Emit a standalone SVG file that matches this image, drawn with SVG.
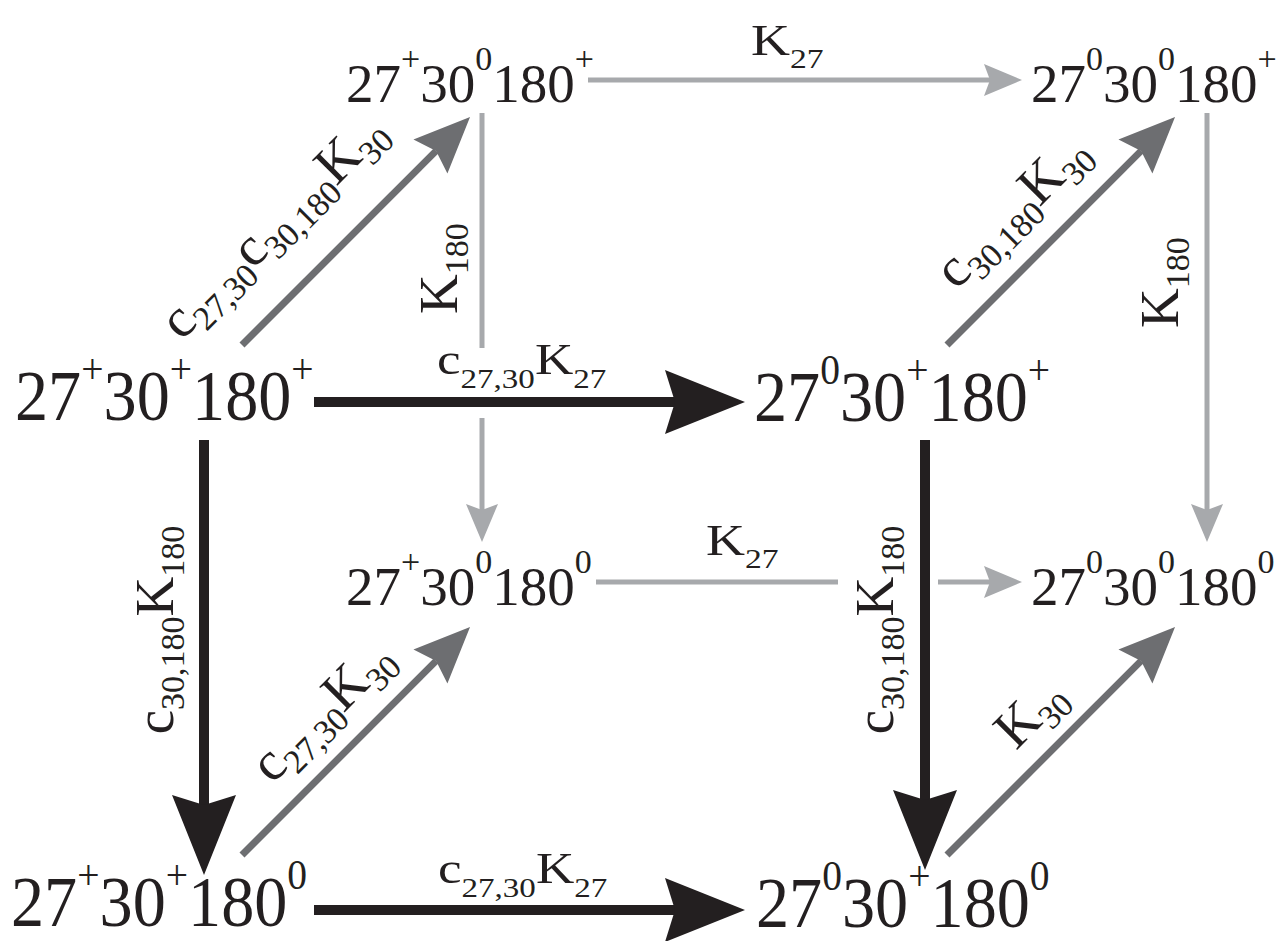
<svg xmlns="http://www.w3.org/2000/svg" width="1278" height="941" viewBox="0 0 1278 941">
<style>
text{font-family:"Liberation Serif","Times New Roman",serif;fill:#231f20}
.nb{font-size:72px}.sb{font-size:43px}
.ns{font-size:55px}.ss{font-size:34px}
.lb{font-size:55px}.sub{font-size:34px}
.lh{font-size:45px}.subh{font-size:28px}
.blk{stroke:#231f20;stroke-width:10;fill:none}
.lg{stroke:#a7a9ac;stroke-width:5;fill:none}
.dg{stroke:#6d6e71;stroke-width:7;fill:none}
</style>
<defs>
<marker id="hb" markerUnits="userSpaceOnUse" viewBox="-20 -40 100 80" refX="0" refY="0" markerWidth="100" markerHeight="80" orient="auto" overflow="visible"><path d="M70,0 L-10,-32 L0,0 L-10,32 Z" fill="#231f20"/></marker>
<marker id="hl" markerUnits="userSpaceOnUse" viewBox="-10 -20 50 40" refX="0" refY="0" markerWidth="50" markerHeight="40" orient="auto" overflow="visible"><path d="M32,0 L-6,-16 L0,0 L-6,16 Z" fill="#a7a9ac"/></marker>
<marker id="hd" markerUnits="userSpaceOnUse" viewBox="-10 -30 70 60" refX="0" refY="0" markerWidth="70" markerHeight="60" orient="auto" overflow="visible"><path d="M48,0 L-8,-24 L0,0 L-8,24 Z" fill="#6d6e71"/></marker>
</defs>
<g id="connectors">
<line class="lg" x1="588" y1="80" x2="990" y2="80" marker-end="url(#hl)"/>
<line class="lg" x1="1207" y1="113" x2="1207" y2="510" marker-end="url(#hl)"/>
<line class="lg" x1="482" y1="113" x2="482" y2="348"/>
<line class="lg" x1="482" y1="418" x2="482" y2="510" marker-end="url(#hl)"/>
<line class="lg" x1="596" y1="582" x2="838" y2="582"/>
<line class="lg" x1="938" y1="582" x2="990" y2="582" marker-end="url(#hl)"/>
<line class="dg" x1="242" y1="345" x2="436.1" y2="150.9" marker-end="url(#hd)"/>
<line class="dg" x1="947" y1="345" x2="1141.1" y2="150.9" marker-end="url(#hd)"/>
<line class="dg" x1="242" y1="855" x2="436.1" y2="660.9" marker-end="url(#hd)"/>
<line class="dg" x1="947" y1="855" x2="1141.1" y2="660.9" marker-end="url(#hd)"/>
<line class="blk" x1="314" y1="402" x2="675" y2="402" marker-end="url(#hb)"/>
<line class="blk" x1="314" y1="910" x2="675" y2="910" marker-end="url(#hb)"/>
<line class="blk" x1="204" y1="440" x2="204" y2="805" marker-end="url(#hb)"/>
<line class="blk" x1="925" y1="440" x2="925" y2="800" marker-end="url(#hb)"/>
</g>
<g id="edge-labels">
<text class="lh" transform="translate(751,55) scale(1.2,1)">K<tspan class="subh" dy="13">27</tspan></text>
<text class="lh" transform="translate(706,555) scale(1.2,1)">K<tspan class="subh" dy="13">27</tspan></text>
<text class="lh" transform="translate(437,374) scale(1.18,1)">c<tspan class="subh" dy="14">27,30</tspan><tspan dy="-14">K</tspan><tspan class="subh" dy="14">27</tspan></text>
<text class="lh" transform="translate(438,883) scale(1.18,1)">c<tspan class="subh" dy="14">27,30</tspan><tspan dy="-14">K</tspan><tspan class="subh" dy="14">27</tspan></text>
<text class="lb" transform="translate(457,314) rotate(-90)">K<tspan class="sub" dy="11">180</tspan></text>
<text class="lb" transform="translate(1178,328) rotate(-90)">K<tspan class="sub" dy="11">180</tspan></text>
<text class="lb" text-anchor="middle" transform="translate(173,630) rotate(-90)">c<tspan class="sub" dy="11">30,180</tspan><tspan dy="-11">K</tspan><tspan class="sub" dy="11">180</tspan></text>
<text class="lb" text-anchor="middle" transform="translate(893,630) rotate(-90)">c<tspan class="sub" dy="11">30,180</tspan><tspan dy="-11">K</tspan><tspan class="sub" dy="11">180</tspan></text>
<text class="lb" text-anchor="middle" transform="translate(285,238) rotate(-45)">c<tspan class="sub" dy="11">27,30</tspan><tspan dy="-11">c</tspan><tspan class="sub" dy="11">30,180</tspan><tspan dy="-11">K</tspan><tspan class="sub" dy="11">30</tspan></text>
<text class="lb" text-anchor="middle" transform="translate(1024,223) rotate(-45)">c<tspan class="sub" dy="11">30,180</tspan><tspan dy="-11">K</tspan><tspan class="sub" dy="11">30</tspan></text>
<text class="lb" text-anchor="middle" transform="translate(334,723) rotate(-45)">c<tspan class="sub" dy="11">27,30</tspan><tspan dy="-11">K</tspan><tspan class="sub" dy="11">30</tspan></text>
<text class="lb" text-anchor="middle" transform="translate(1042,725) rotate(-45)">K<tspan class="sub" dy="11">30</tspan></text>
</g>
<g id="n-27p30p180p"><text class="nb" transform="translate(15,420) scale(0.92,1)">27<tspan class="sb" dy="-37">+</tspan><tspan dy="37">30</tspan><tspan class="sb" dy="-37">+</tspan><tspan dy="37">180</tspan><tspan class="sb" dy="-37">+</tspan></text></g>
<g id="n-27z30p180p"><text class="nb" transform="translate(754,421) scale(0.92,1)">27<tspan class="sb" dy="-37">0</tspan><tspan dy="37">30</tspan><tspan class="sb" dy="-37">+</tspan><tspan dy="37">180</tspan><tspan class="sb" dy="-37">+</tspan></text></g>
<g id="n-27p30p180z"><text class="nb" transform="translate(11,926) scale(0.92,1)">27<tspan class="sb" dy="-37">+</tspan><tspan dy="37">30</tspan><tspan class="sb" dy="-37">+</tspan><tspan dy="37">180</tspan><tspan class="sb" dy="-37">0</tspan></text></g>
<g id="n-27z30p180z"><text class="nb" transform="translate(756,927) scale(0.92,1)">27<tspan class="sb" dy="-37">0</tspan><tspan dy="37">30</tspan><tspan class="sb" dy="-37">+</tspan><tspan dy="37">180</tspan><tspan class="sb" dy="-37">0</tspan></text></g>
<g id="n-27p30z180p"><text class="ns" x="346" y="102">27<tspan class="ss" dy="-32">+</tspan><tspan dy="32">30</tspan><tspan class="ss" dy="-32">0</tspan><tspan dy="32">180</tspan><tspan class="ss" dy="-32">+</tspan></text></g>
<g id="n-27z30z180p"><text class="ns" x="1031" y="102">27<tspan class="ss" dy="-32">0</tspan><tspan dy="32">30</tspan><tspan class="ss" dy="-32">0</tspan><tspan dy="32">180</tspan><tspan class="ss" dy="-32">+</tspan></text></g>
<g id="n-27p30z180z"><text class="ns" x="346" y="605">27<tspan class="ss" dy="-32">+</tspan><tspan dy="32">30</tspan><tspan class="ss" dy="-32">0</tspan><tspan dy="32">180</tspan><tspan class="ss" dy="-32">0</tspan></text></g>
<g id="n-27z30z180z"><text class="ns" x="1031" y="605">27<tspan class="ss" dy="-32">0</tspan><tspan dy="32">30</tspan><tspan class="ss" dy="-32">0</tspan><tspan dy="32">180</tspan><tspan class="ss" dy="-32">0</tspan></text></g>
</svg>
